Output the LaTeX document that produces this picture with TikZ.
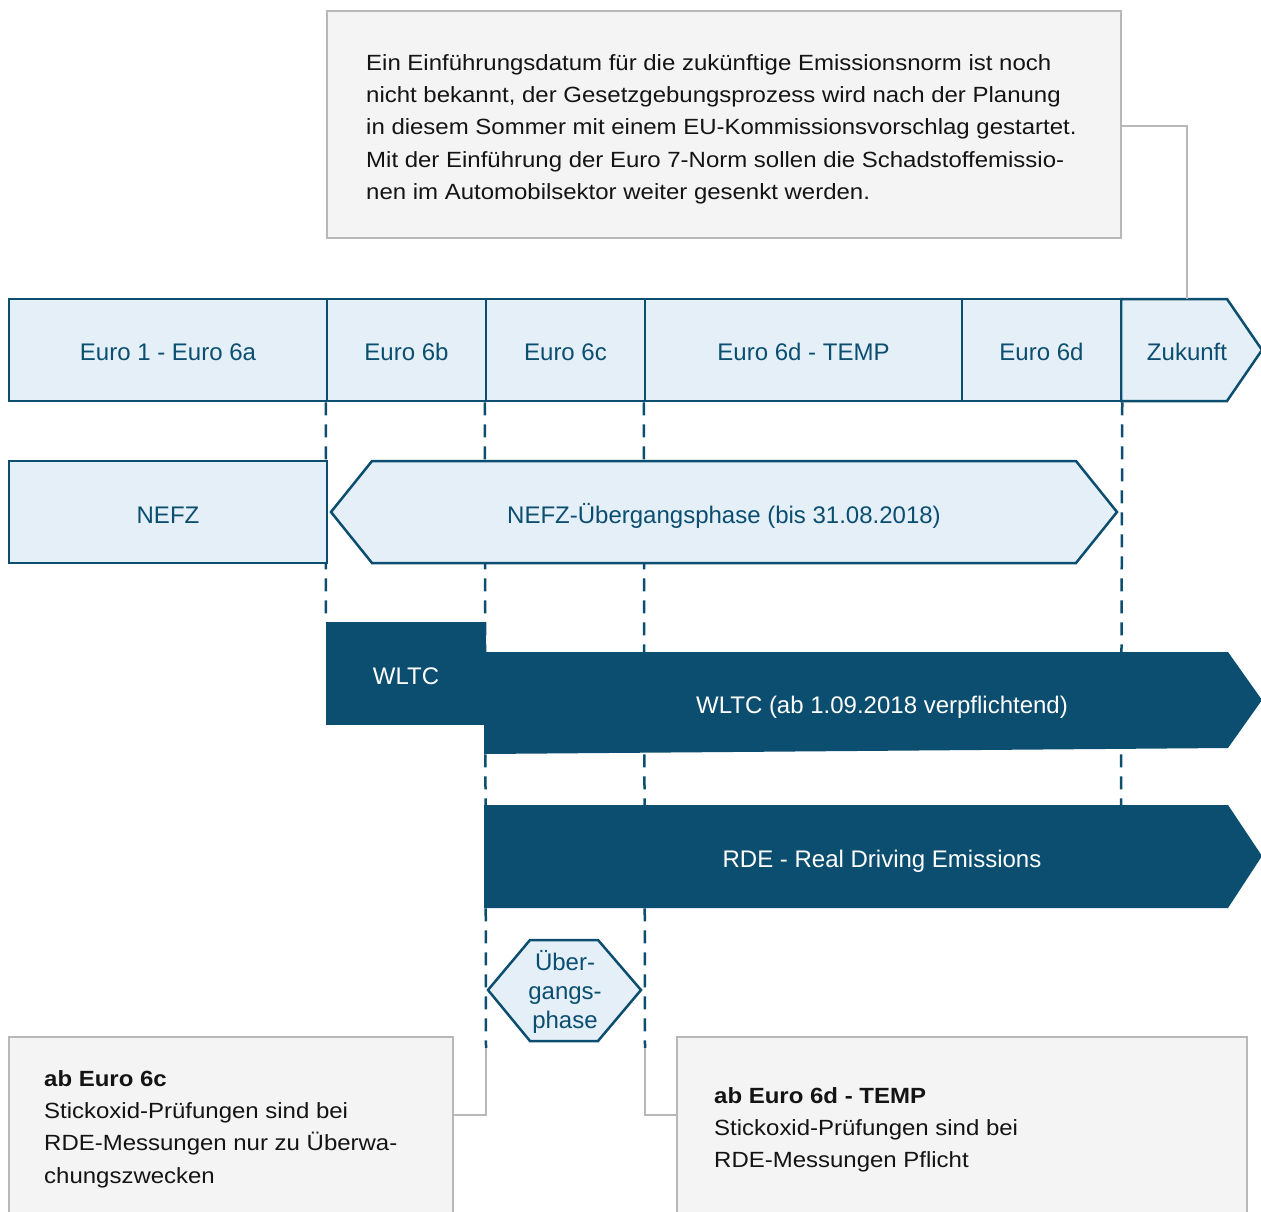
\documentclass[tikz,border=0pt]{standalone}
\usepackage{fontspec}
\setmainfont{Liberation Sans}
\newfontfamily\notefont{Liberation Sans}[FakeStretch=1.09]
\definecolor{dblue}{RGB}{11,78,112}
\definecolor{lblue}{RGB}{228,239,247}
\definecolor{gfill}{RGB}{244,244,244}
\definecolor{gline}{RGB}{184,184,184}
\definecolor{gtext}{RGB}{20,20,20}
\newcommand{\labfont}{\fontsize{24}{29}\selectfont}
\newcommand{\gfont}{\notefont\fontsize{22}{32.3}\selectfont}
\begin{document}
\begin{tikzpicture}[x=1pt,y=-1pt,
  stagebox/.style={draw=dblue,fill=lblue,line width=2.5pt,minimum height=102pt,inner sep=0pt,text=dblue,font=\labfont,text height=21pt,text depth=0pt},
  lightshape/.style={draw=dblue,fill=lblue,line width=2.5pt,line join=miter},
  darkshape/.style={fill=dblue,draw=none},
  labtext/.style={inner sep=0pt,anchor=base,text=dblue,font=\labfont},
  whitetext/.style={inner sep=0pt,anchor=base,text=white,font=\labfont},
  graybox/.style={draw=gline,fill=gfill,line width=2.5pt,inner sep=0pt},
  graytext/.style={inner sep=0pt,anchor=north west,align=left,text=gtext,font=\gfont},
  dline/.style={draw=dblue,line width=2.5pt,dash pattern=on 13pt off 9pt},
  conn/.style={draw=gline,line width=2.5pt}]
\useasboundingbox (0,0) rectangle (1261,1212);
\fill[white] (0,0) rectangle (1261,1212);

% coordinates
\coordinate (zuktop) at (1187,299);
\coordinate (c1) at (486,1048);
\coordinate (c2) at (645,1048);
\coordinate (c3) at (1121,805);

% note box
\node[graybox,minimum width=794pt,minimum height=227pt] (note) at (724,124.5) {};
\node[graytext] (notetext) at (366,54) {Ein Einführungsdatum für die zukünftige Emissionsnorm ist noch\\
nicht bekannt, der Gesetzgebungsprozess wird nach der Planung\\
in diesem Sommer mit einem EU-Kommissionsvorschlag gestartet.\\
Mit der Einführung der Euro 7-Norm sollen die Schadstoffemissio-\\
nen im Automobilsektor weiter gesenkt werden.};

% stage row
\draw[lightshape] (1121,299) -- (1227,299) -- (1262,350) -- (1227,401) -- (1121,401) -- cycle;
\node[labtext] (zuk) at (1187,360.5) {Zukunft};
\node[stagebox,minimum width=318pt] (e1) at (168,350) {Euro 1 - Euro 6a};
\node[stagebox,minimum width=159pt] (e6b) at (406.5,350) {Euro 6b};
\node[stagebox,minimum width=159pt] (e6c) at (565.5,350) {Euro 6c};
\node[stagebox,minimum width=317pt] (e6dt) at (803.5,350) {Euro 6d - TEMP};
\node[stagebox,minimum width=159pt] (e6d) at (1041.5,350) {Euro 6d};
\draw[conn] ([yshift=-1.5pt]note.east) -| (zuktop);

% bottom boxes
\node[graybox,minimum width=444pt,minimum height=203pt] (lbox) at (231,1138.5) {};
\node[graybox,minimum width=570pt,minimum height=203pt] (rbox) at (962,1138.5) {};

% WLTC short box (needed as end of first guide line)
\node[darkshape,minimum width=160pt,minimum height=103pt,inner sep=0pt] (wltcA) at (406,673.5) {};

% dashed guide lines
\draw[dline] (e6b.south west) -- (wltcA.north west);
\draw[dline] (e6c.south west) -- (c1);
\draw[dline] (e6dt.south west) -- (c2);
\draw[dline] (e6d.south east) -- (c3);

% NEFZ row
\node[stagebox,minimum width=318pt,text height=23pt] (nefz) at (168,512) {NEFZ};
\draw[lightshape] (331,512) -- (372,461) -- (1076,461) -- (1117,512) -- (1076,563) -- (372,563) -- cycle;
\node[labtext] (nefzu) at (724,523) {NEFZ-Übergangsphase (bis 31.08.2018)};

% WLTC
\node[whitetext] (wltcAt) at (406,684.5) {WLTC};
\fill[dblue] (484,652) -- (1228,652) -- (1262,700) -- (1228,748) -- (484,754) -- cycle;
\node[whitetext] (wltcB) at (882,713.5) {WLTC (ab 1.09.2018 verpflichtend)};

% RDE
\fill[dblue] (484,805) -- (1228,805) -- (1262,856) -- (1228,908) -- (484,908) -- cycle;
\node[whitetext] (rde) at (882,867.5) {RDE - Real Driving Emissions};

% Uebergangsphase hexagon
\draw[lightshape] (488,990) -- (530,940) -- (598,940) -- (641,990) -- (598,1041) -- (530,1041) -- cycle;
\node[labtext,anchor=center,align=center] (ueb) at (565,992) {Über-\\gangs-\\phase};

% connectors to bottom boxes
\draw[conn] (c1) |- ([yshift=23.5pt]lbox.east);
\draw[conn] (c2) |- ([yshift=23.5pt]rbox.west);

% bottom texts
\node[graytext] (ltext) at (44,1070) {\textbf{ab Euro 6c}\\
Stickoxid-Prüfungen sind bei\\
RDE-Messungen nur zu Überwa-\\
chungszwecken};
\node[graytext] (rtext) at (714,1087) {\textbf{ab Euro 6d - TEMP}\\
Stickoxid-Prüfungen sind bei\\
RDE-Messungen Pflicht};
\end{tikzpicture}
\end{document}
